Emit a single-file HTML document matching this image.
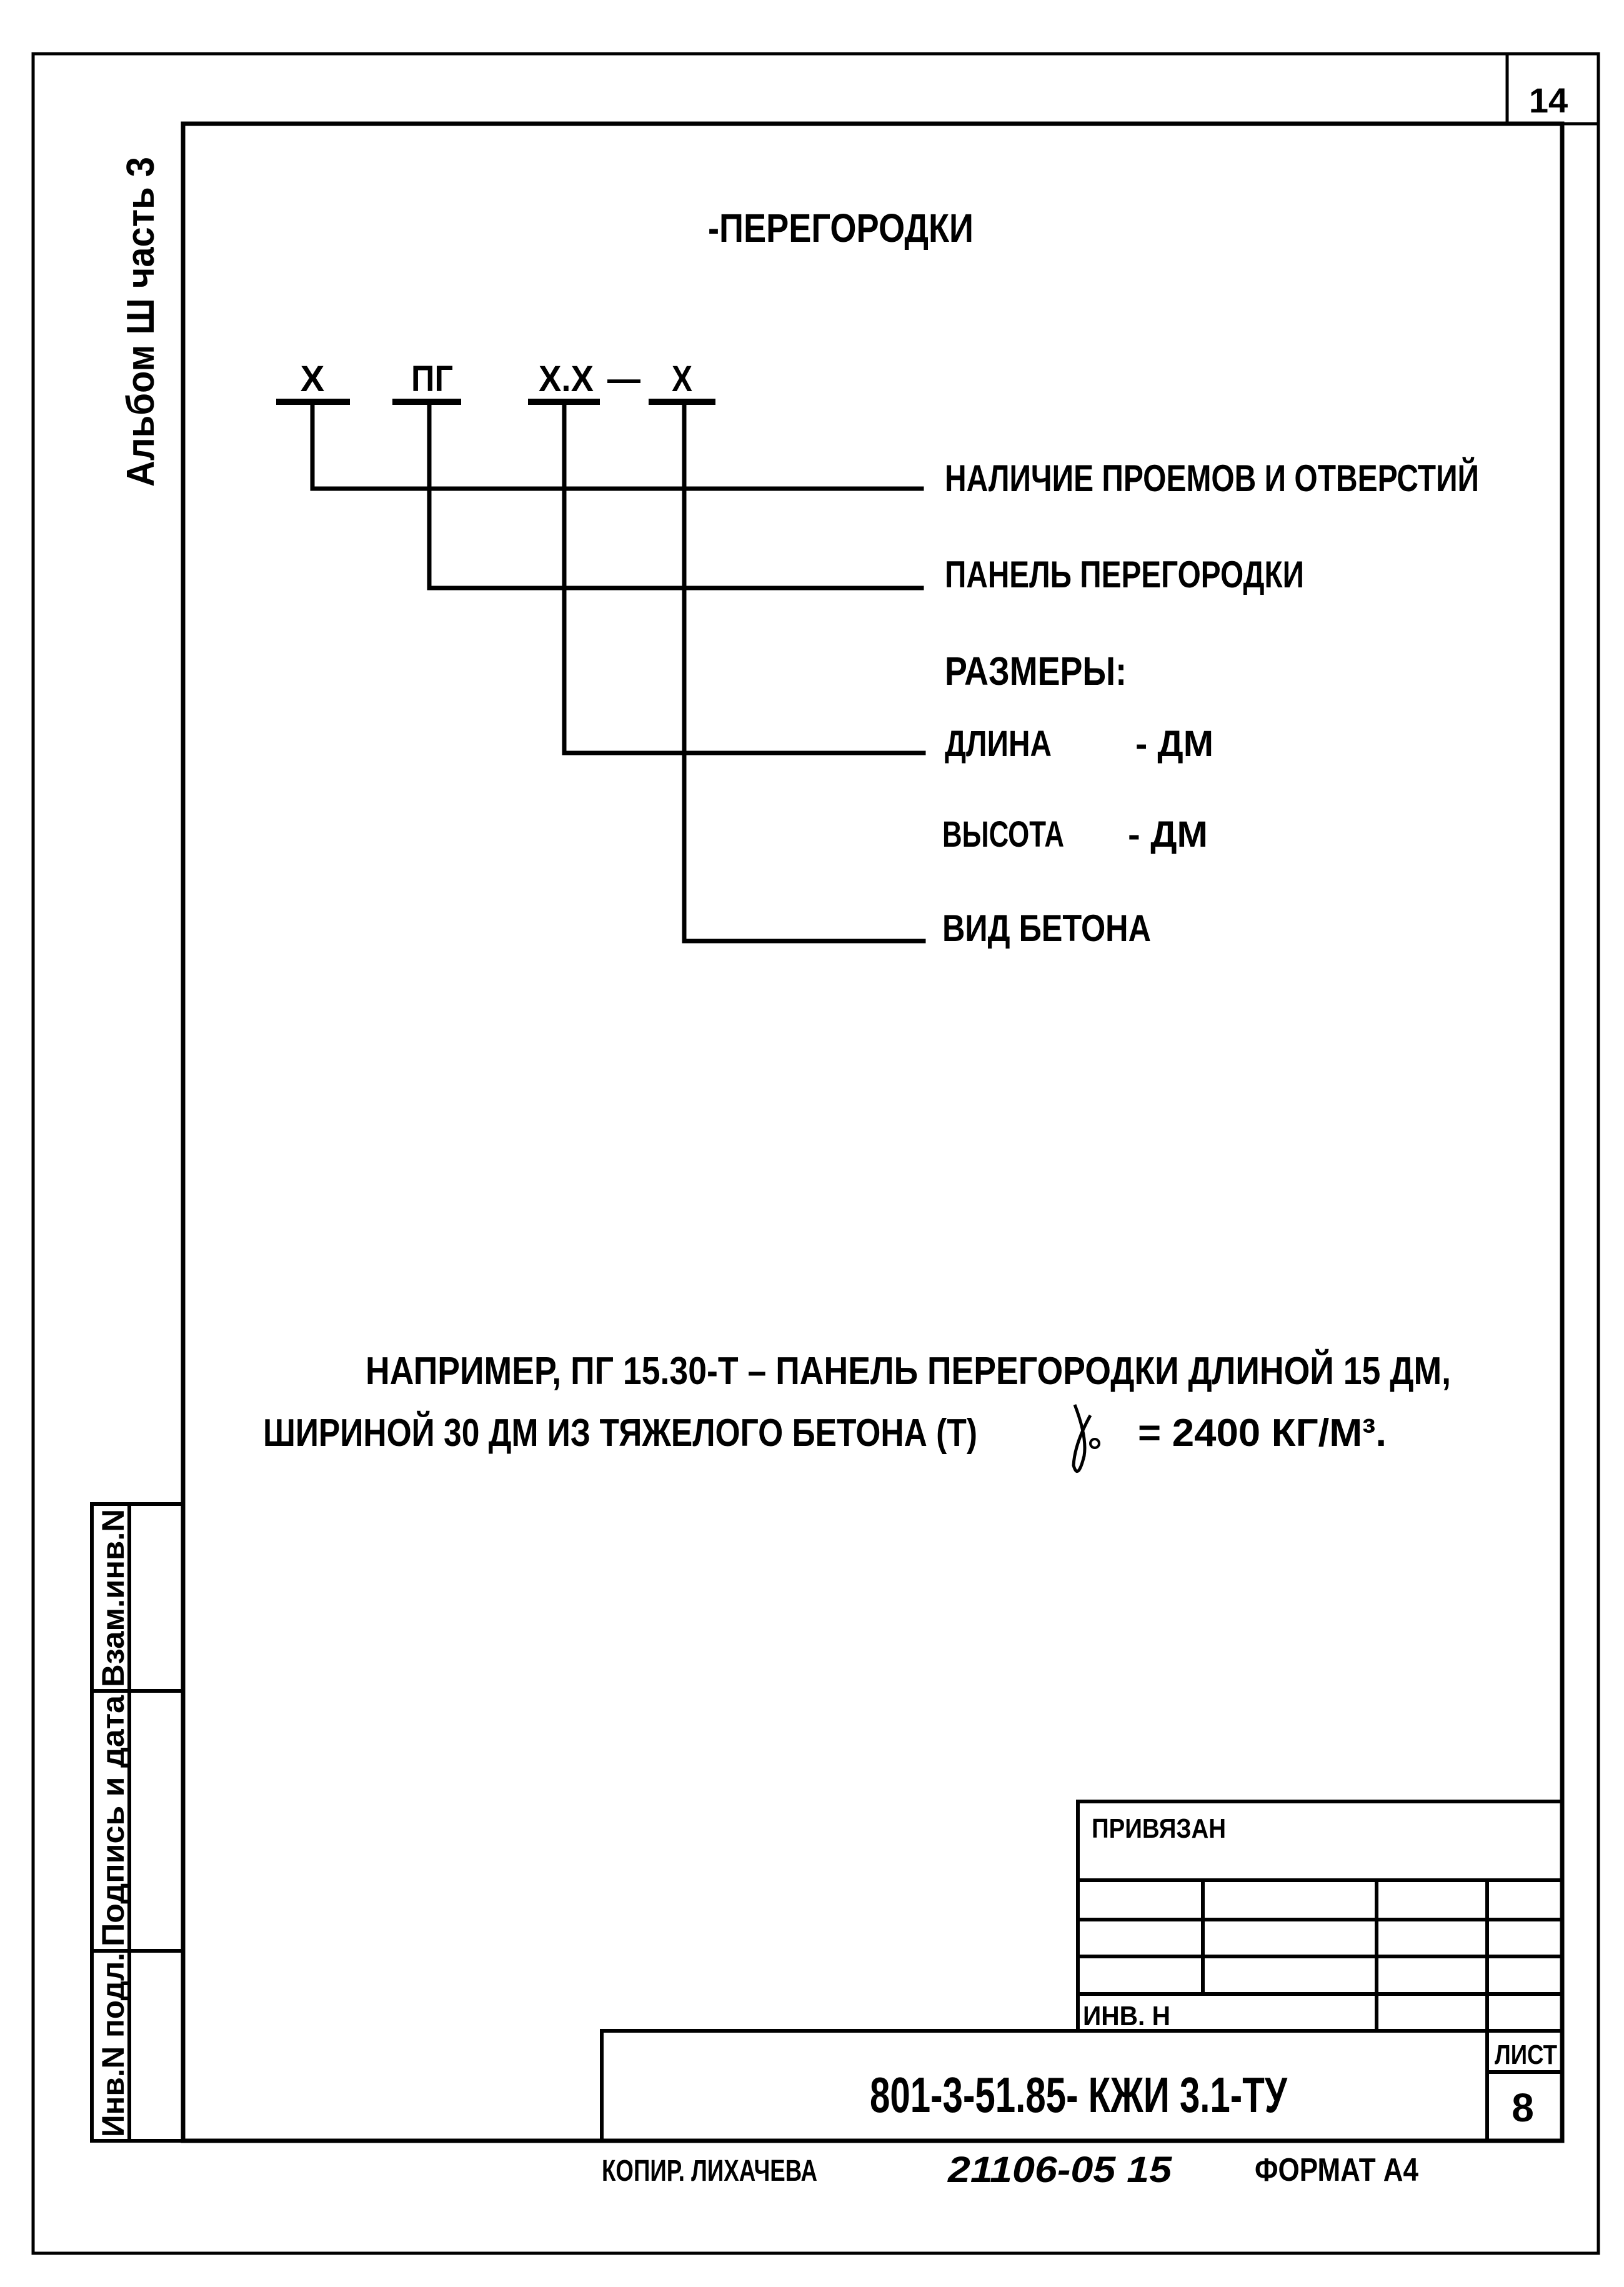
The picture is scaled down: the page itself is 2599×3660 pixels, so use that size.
<!DOCTYPE html>
<html><head><meta charset="utf-8"><style>
html,body{margin:0;padding:0;background:#fff}
svg{display:block}
text{font-family:"Liberation Sans",sans-serif;font-weight:bold;fill:#000}
</style></head><body>
<svg width="2599" height="3660" viewBox="0 0 2599 3660" xmlns="http://www.w3.org/2000/svg">
<g stroke="#000" fill="none" stroke-linecap="square">
<path d="M53 86 H2558 V3606 H53 Z" stroke-width="5"/>
<path d="M2412 86 V198 H2558" stroke-width="5"/>
<path d="M293 198 H2500 V3426 H293 Z" stroke-width="7"/>
<path d="M147 2407 H293 M147 2407 V3426 H293 M207 2407 V3426 M147 2706 H293 M147 3122 H293" stroke-width="6"/>
<path d="M1725 2883 H2500 M1725 2883 V3250 M1725 3009 H2500 M1725 3072 H2500 M1725 3131 H2500 M1725 3191 H2500 M1925 3009 V3191 M2203 3009 V3250 M2380 3009 V3426 M963 3250 H2500 M963 3250 V3426 M2380 3316 H2500" stroke-width="6"/>
<path d="M447 643 H555 M633 643 H733 M850 643 H955 M1043 643 H1140" stroke-width="10"/>
<path d="M500 643 V782 H1475 M687 643 V941 H1475 M903 643 V1205 H1478 M1095 643 V1506 H1478" stroke-width="7"/>
</g>

<text x="2478" y="180" font-size="56" text-anchor="middle">14</text>
<text x="1133" y="387" font-size="64" textLength="425" lengthAdjust="spacingAndGlyphs">-ПЕРЕГОРОДКИ</text>

<text transform="translate(246,779) rotate(-90)" font-size="62" textLength="528" lengthAdjust="spacingAndGlyphs">Альбом Ш часть 3</text>

<text x="500" y="626" font-size="58" text-anchor="middle">X</text>
<text x="658" y="626" font-size="58" textLength="67" lengthAdjust="spacingAndGlyphs">ПГ</text>
<text x="862" y="626" font-size="58" textLength="88" lengthAdjust="spacingAndGlyphs">X.X</text>
<text x="972" y="626" font-size="58" textLength="53" lengthAdjust="spacingAndGlyphs">—</text>
<text x="1075" y="626" font-size="58" textLength="33" lengthAdjust="spacingAndGlyphs">X</text>

<text x="1512" y="786" font-size="60" textLength="855" lengthAdjust="spacingAndGlyphs">НАЛИЧИЕ ПРОЕМОВ И ОТВЕРСТИЙ</text>
<text x="1512" y="940" font-size="60" textLength="575" lengthAdjust="spacingAndGlyphs">ПАНЕЛЬ ПЕРЕГОРОДКИ</text>
<text x="1512" y="1096" font-size="64" textLength="291" lengthAdjust="spacingAndGlyphs">РАЗМЕРЫ:</text>
<text x="1512" y="1210" font-size="58" textLength="171" lengthAdjust="spacingAndGlyphs">ДЛИНА</text>
<text x="1817" y="1210" font-size="58" textLength="125" lengthAdjust="spacingAndGlyphs">- ДМ</text>
<text x="1508" y="1355" font-size="58" textLength="195" lengthAdjust="spacingAndGlyphs">ВЫСОТА</text>
<text x="1805" y="1355" font-size="58" textLength="128" lengthAdjust="spacingAndGlyphs">- ДМ</text>
<text x="1508" y="1506" font-size="60" textLength="334" lengthAdjust="spacingAndGlyphs">ВИД БЕТОНА</text>

<text x="585" y="2215" font-size="62" textLength="1737" lengthAdjust="spacingAndGlyphs">НАПРИМЕР, ПГ 15.30-Т – ПАНЕЛЬ ПЕРЕГОРОДКИ ДЛИНОЙ 15 ДМ,</text>
<text x="421" y="2314" font-size="62" textLength="1143" lengthAdjust="spacingAndGlyphs">ШИРИНОЙ 30 ДМ ИЗ ТЯЖЕЛОГО БЕТОНА (Т)</text>
<path d="M1720 2248 Q1740 2300 1735 2330 Q1725 2370 1718 2345 Q1720 2310 1745 2265" stroke="#000" stroke-width="5" fill="none"/>
<circle cx="1752" cy="2310" r="7" stroke="#000" stroke-width="4" fill="none"/>
<text x="1821" y="2314" font-size="62" textLength="398" lengthAdjust="spacingAndGlyphs">= 2400 КГ/М³.</text>

<text transform="translate(198,3420) rotate(-90)" font-size="50" textLength="295" lengthAdjust="spacingAndGlyphs">Инв.N подл.</text>
<text transform="translate(198,3115) rotate(-90)" font-size="50" textLength="402" lengthAdjust="spacingAndGlyphs">Подпись и дата</text>
<text transform="translate(198,2700) rotate(-90)" font-size="50" textLength="285" lengthAdjust="spacingAndGlyphs">Взам.инв.N</text>

<text x="1747" y="2941" font-size="44" textLength="215" lengthAdjust="spacingAndGlyphs">ПРИВЯЗАН</text>
<text x="1733" y="3241" font-size="44" textLength="140" lengthAdjust="spacingAndGlyphs">ИНВ. Н</text>
<text x="2392" y="3303" font-size="44" textLength="100" lengthAdjust="spacingAndGlyphs">ЛИСТ</text>
<text x="2437" y="3395" font-size="64" font-weight="normal" text-anchor="middle">8</text>
<text x="1392" y="3380" font-size="80" textLength="668" lengthAdjust="spacingAndGlyphs">801-3-51.85- КЖИ 3.1-ТУ</text>

<text x="963" y="3490" font-size="48" textLength="345" lengthAdjust="spacingAndGlyphs">КОПИР. ЛИХАЧЕВА</text>
<text x="1517" y="3492" font-size="58" font-style="italic" font-weight="normal" textLength="358" lengthAdjust="spacingAndGlyphs">21106-05 15</text>
<text x="2008" y="3490" font-size="52" textLength="262" lengthAdjust="spacingAndGlyphs">ФОРМАТ А4</text>
</svg>
</body></html>
